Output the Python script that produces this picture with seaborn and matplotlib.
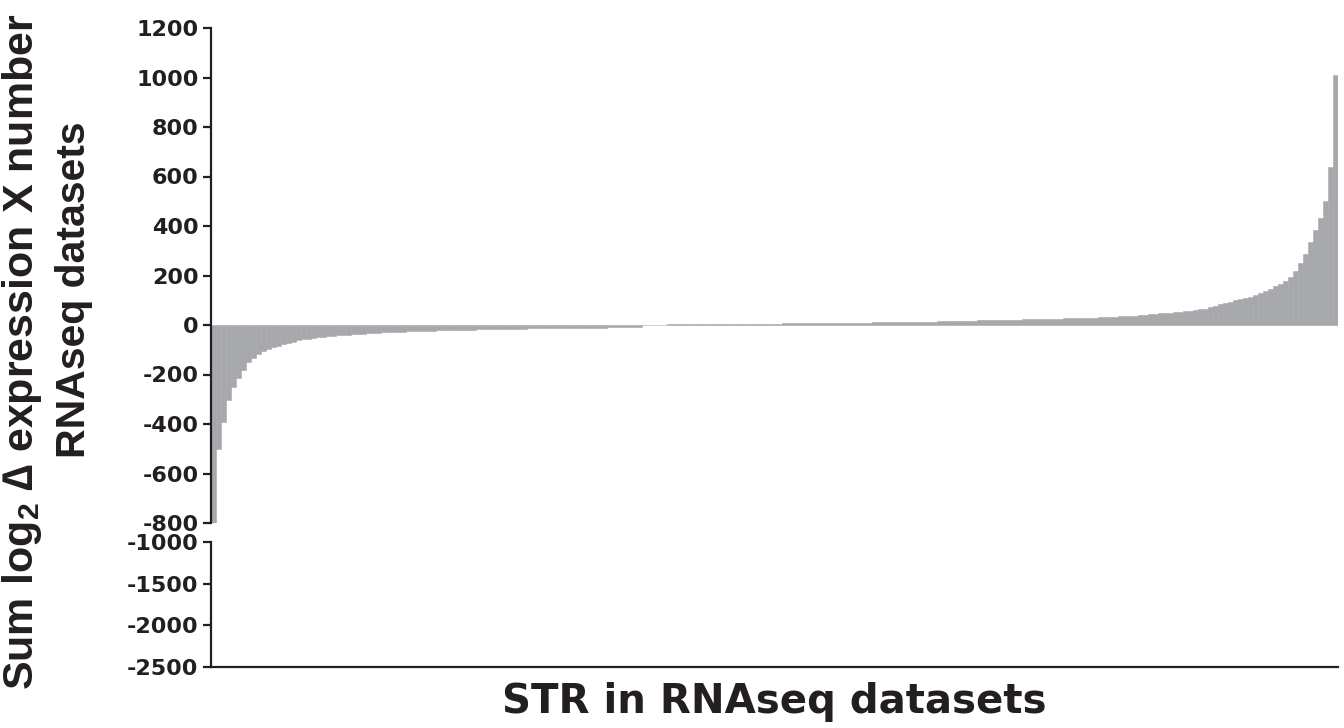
import numpy as np
import pandas as pd
import matplotlib
matplotlib.use("Agg")
import matplotlib.pyplot as plt
import seaborn as sns

# ---- data (sorted STR values) ----
str_values = [
    -800, -500, -390, -305, -250, -215, -180, -150, -132, -118, -106, -96, -89, -83, -77, -72,
    -67, -62, -58, -55, -52, -50, -48,
    -46, -44, -42, -40, -39, -37, -36, -35, -33, -32, -31, -30, -29, -28, -28,
    -27, -26, -26, -25, -24, -24, -23, -22, -22, -21,
    -21, -20, -20, -19, -19, -18, -18, -17, -17, -16,
    -16, -16, -15, -15, -15, -14, -14, -14, -13, -13,
    -13, -13, -12, -12, -12, -12, -11, -11, -11, -11,
    -11, -10, -10, -10, -10, -9, -9, -8,
    0, 0,
    2, 2, 2, 3, 3, 3, 3, 3, 4, 4, 4, 4,
    4, 4, 5, 5, 5, 5, 5, 5, 6, 6, 6, 6, 6, 6, 7, 7, 7, 7, 7, 8,
    8, 8, 8, 8, 9, 9, 9, 9, 10, 10, 10, 10, 11, 11, 11, 11, 12, 12, 12, 13,
    13, 13, 14, 14, 14, 15, 15, 16, 16, 17, 17, 18, 18, 19, 19, 20, 20, 21, 21, 22,
    22, 22, 23, 23, 24, 24, 25, 25, 26, 26, 27, 27, 28, 28, 28, 29,
    30, 31, 32, 33, 34, 35, 36, 37, 38, 40, 41, 43, 45, 47, 48, 50, 52, 54, 56, 58,
    60, 63, 66, 72, 78, 85, 89, 94, 99, 104, 109, 114, 120, 128, 137, 147, 157, 167,
    178, 192, 220, 250, 288, 335, 385, 432, 500, 640, 1010,
]
str_index = list(range(len(str_values)))

top_ticks = [1200, 1000, 800, 600, 400, 200, 0, -200, -400, -600, -800]
top_tick_labels = ["1200", "1000", "800", "600", "400", "200", "0", "-200", "-400", "-600", "-800"]
bottom_ticks = [-1000, -1500, -2000, -2500]
bottom_tick_labels = ["-1000", "-1500", "-2000", "-2500"]

x_label = "STR in RNAseq datasets"
y_label_1 = "Sum log$_2$ \u2206 expression X number"
y_label_2 = "RNAseq datasets"

# ---- style ----
sns.set_style("ticks")
plt.rcParams["font.family"] = ["DejaVu Sans"]
plt.rcParams["axes.unicode_minus"] = False
plt.rcParams["mathtext.fontset"] = "custom"
plt.rcParams["mathtext.rm"] = "Liberation Sans:bold"
plt.rcParams["mathtext.it"] = "Liberation Sans:bold"
plt.rcParams["mathtext.bf"] = "Liberation Sans:bold"

bar_color = "#A7A8AC"
axis_color = "#231F20"

W, H = 1344, 728
fig = plt.figure(figsize=(W / 100, H / 100), dpi=100)
fig.patch.set_facecolor("white")

left = 211 / W
width = (1338 - 211) / W
ax_top = fig.add_axes([left, 1 - 523 / H, width, (523 - 28) / H])
ax_bot = fig.add_axes([left, 1 - 667 / H, width, (667 - 542) / H])

df = pd.DataFrame({"idx": str_index, "value": str_values})
n = len(str_values)

for ax in (ax_top, ax_bot):
    sns.barplot(data=df, x="idx", y="value", color=bar_color, saturation=1,
                width=1.0, edgecolor=bar_color, linewidth=0.4, ax=ax, errorbar=None)
    ax.set_xlim(-0.5, n - 0.5)
    ax.set_xticks([])
    ax.set_xlabel("")
    ax.set_ylabel("")
    ax.set_facecolor("white")
    for s in ("top", "right"):
        ax.spines[s].set_visible(False)
    ax.spines["left"].set_color(axis_color)
    ax.spines["left"].set_linewidth(1.6)
    ax.tick_params(axis="y", direction="out", length=6, width=1.6, color=axis_color,
                   pad=3, labelsize=16, labelcolor=axis_color)

ax_top.spines["bottom"].set_visible(False)
ax_top.set_ylim(-800, 1200)
ax_top.set_yticks(top_ticks)
ax_top.set_yticklabels(top_tick_labels, fontweight="bold", fontsize=16)

ax_bot.spines["bottom"].set_color(axis_color)
ax_bot.spines["bottom"].set_linewidth(1.6)
ax_bot.set_ylim(-2500, -1000)
ax_bot.set_yticks(bottom_ticks)
ax_bot.set_yticklabels(bottom_tick_labels, fontweight="bold", fontsize=16)

fig.text(774 / W, 1 - 713 / H, x_label, ha="center", va="baseline",
         fontsize=29, fontweight="bold", color=axis_color, family="DejaVu Sans")
fig.text(22 / W, 1 - 352 / H, y_label_1, rotation=90, ha="center", va="center",
         fontsize=31, fontweight="bold", color=axis_color,
         family=["Liberation Sans", "DejaVu Sans"])
fig.text(74 / W, 1 - 290 / H, y_label_2, rotation=90, ha="center", va="center",
         fontsize=29.5, fontweight="bold", color=axis_color,
         family=["Liberation Sans", "DejaVu Sans"])

fig.savefig("out.png", dpi=100, facecolor="white")
